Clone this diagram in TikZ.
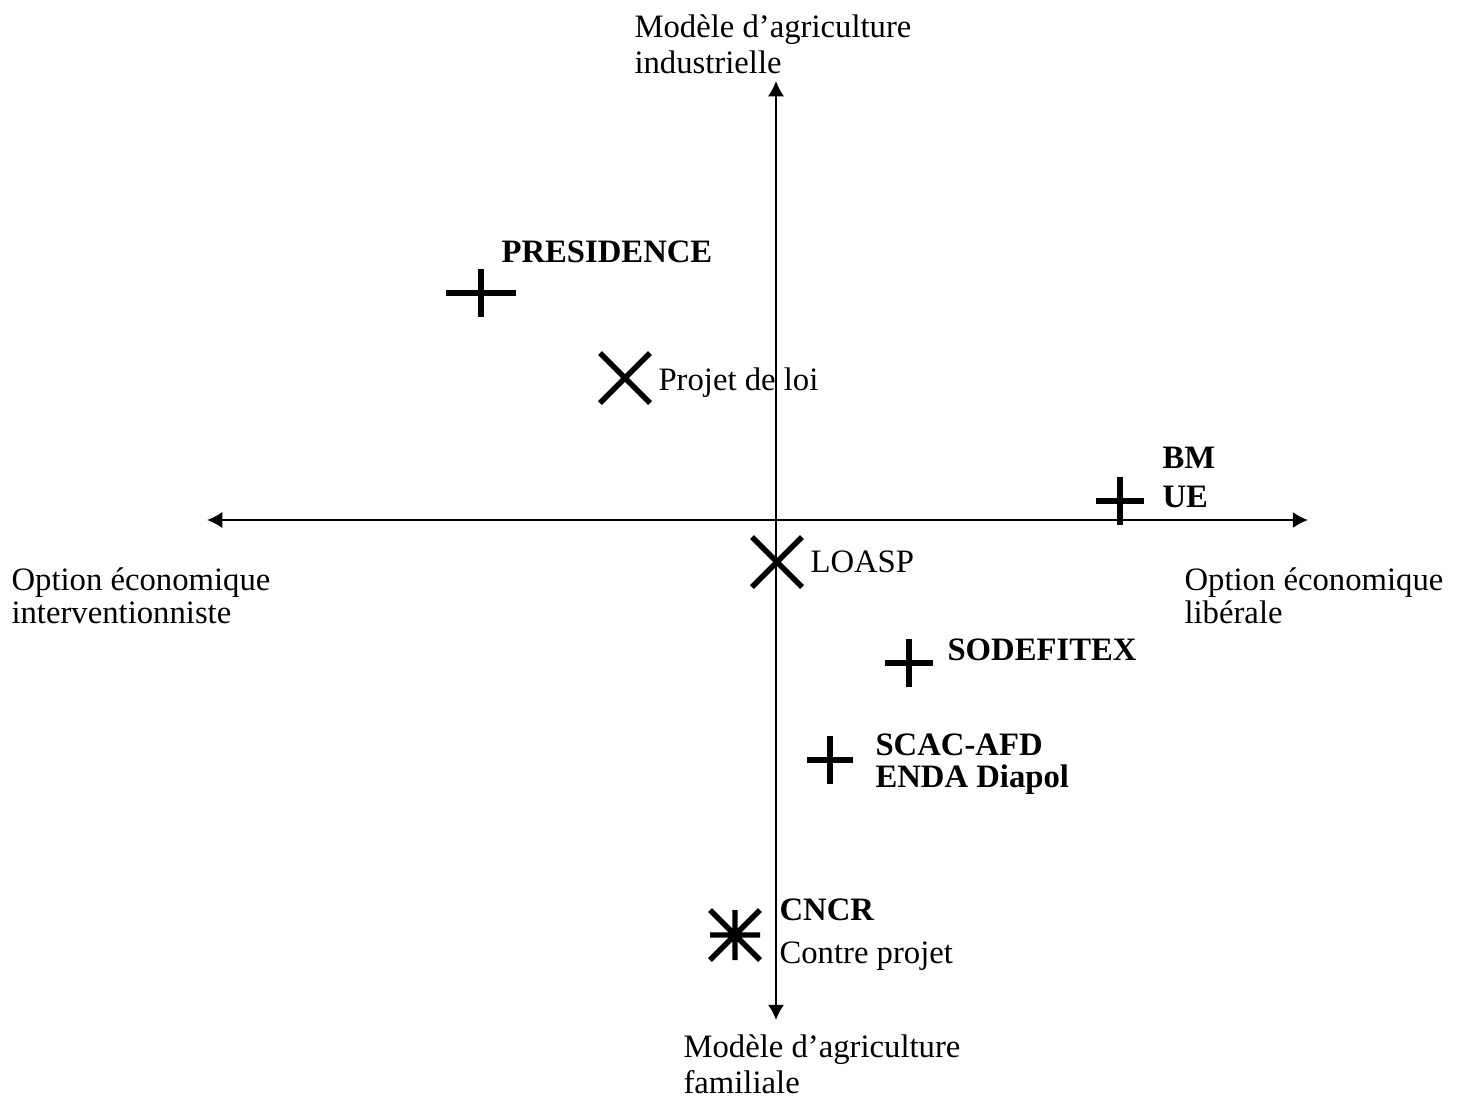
\documentclass[tikz,border=0pt]{standalone}
\usepackage{fontspec}
\setmainfont{Liberation Serif}
\usetikzlibrary{arrows.meta}

\begin{document}
\begin{tikzpicture}[x=0.367pt,y=-0.367pt,
        axis/.style={line width=0.75pt,{Latex[length=5.6pt,width=6pt]}-{Latex[length=5.6pt,width=6pt]}},
        marker/.style={line width=2pt},
        lbl/.style={anchor=base west,inner sep=0pt,font=\fontsize{12}{14}\selectfont},
        actor/.style={lbl,font=\fontsize{12}{14}\selectfont\bfseries}]

        \useasboundingbox (0,0) rectangle (1457,1102);

        % axis ends
        \coordinate (top) at (776,81);
        \coordinate (bottom) at (776,1020);
        \coordinate (left) at (207,520);
        \coordinate (right) at (1308,520);

        % axes
        \draw[axis] (left) -- (right);
        \draw[axis] (bottom) -- (top);

        % axis labels
        \node[lbl] (industrielle1) at (634,37) {Modèle d’agriculture};
        \node[lbl] (industrielle2) at (634,73) {industrielle};
        \node[lbl] (familiale1) at (683,1057) {Modèle d’agriculture};
        \node[lbl] (familiale2) at (683,1093) {familiale};
        \node[lbl] (interv1) at (11,590) {Option économique};
        \node[lbl] (interv2) at (11,623) {interventionniste};
        \node[lbl] (liberale1) at (1184,590) {Option économique};
        \node[lbl] (liberale2) at (1184,623) {libérale};

        % positions
        \coordinate (presidence) at (481,293);
        \coordinate (projet) at (625,378);
        \coordinate (loasp) at (777,562);
        \coordinate (bm) at (1120,501);
        \coordinate (sodefitex) at (909,663);
        \coordinate (scac) at (830,760);
        \coordinate (cncr) at (735,935);

        % plus markers
        \foreach \p/\w in {presidence/35, bm/24, sodefitex/24, scac/23}
            \draw[marker] (\p) +(-\w,0) -- +(\w,0) +(0,-24) -- +(0,24);

        % cross markers
        \foreach \p in {projet, loasp}
            \draw[marker] (\p) +(-25,-25) -- +(25,25) +(-25,25) -- +(25,-25);

        % star marker
        \draw[marker] (cncr) +(-25,-25) -- +(25,25) +(-25,25) -- +(25,-25)
            +(-25,0) -- +(25,0) +(0,-25) -- +(0,25);

        % actors
        \node[actor] (presidenceLbl) at (501,262) {PRESIDENCE};
        \node[lbl] (projetLbl) at (658,390) {Projet de loi};
        \node[lbl] (loaspLbl) at (810,572) {LOASP};
        \node[actor] (bmLbl) at (1162,468) {BM};
        \node[actor] (ueLbl) at (1162,507) {UE};
        \node[actor] (sodefitexLbl) at (947,660) {SODEFITEX};
        \node[actor] (scacLbl) at (875,755) {SCAC-AFD};
        \node[actor] (endaLbl) at (875,787) {ENDA Diapol};
        \node[actor] (cncrLbl) at (779,920) {CNCR};
        \node[lbl] (contreLbl) at (779,963) {Contre projet};
    \end{tikzpicture}
\end{document}
